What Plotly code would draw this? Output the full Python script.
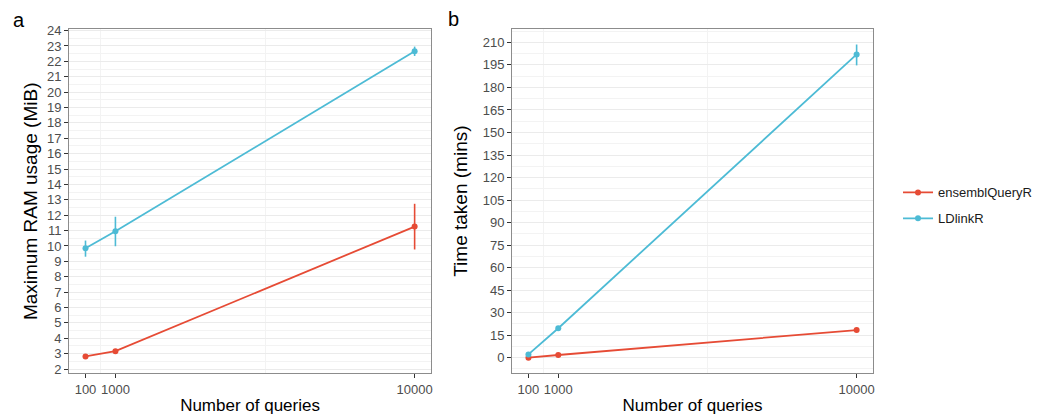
import plotly.graph_objects as go

queries = [100, 1000, 10000]
tick_labels = ["100", "1000", "10000"]

# Panel a: maximum RAM usage (MiB)
ram_ens = [2.82, 3.16, 11.26]
ram_ens_hi = [0.08, 0.08, 1.48]
ram_ens_lo = [0.08, 0.08, 1.49]
ram_ld = [9.85, 10.95, 22.65]
ram_ld_hi = [0.5, 0.95, 0.31]
ram_ld_lo = [0.55, 0.97, 0.30]

# Panel b: time taken (mins)
time_ens = [0.0, 1.8, 18.4]
time_ens_hi = [0.2, 0.3, 0.6]
time_ens_lo = [0.2, 0.3, 0.6]
time_ld = [2.2, 19.6, 202.0]
time_ld_hi = [0.4, 0.8, 6.6]
time_ld_lo = [0.4, 0.8, 7.3]

series_names = ["ensemblQueryR", "LDlinkR"]
colors = ["#E64B35", "#4DBBD5"]

fig = go.Figure()

def add(x, y, hi, lo, name, color, xa, ya, show):
    fig.add_trace(go.Scatter(
        x=x, y=y, mode="lines+markers", name=name,
        line=dict(color=color, width=1.8),
        marker=dict(color=color, size=6),
        error_y=dict(type="data", array=hi, arrayminus=lo, color=color,
                     thickness=1.6, width=0),
        xaxis=xa, yaxis=ya, showlegend=show, legendgroup=name,
    ))

add(queries, ram_ens, ram_ens_hi, ram_ens_lo, series_names[0], colors[0], "x", "y", True)
add(queries, ram_ld, ram_ld_hi, ram_ld_lo, series_names[1], colors[1], "x", "y", True)
add(queries, time_ens, time_ens_hi, time_ens_lo, series_names[0], colors[0], "x2", "y2", False)
add(queries, time_ld, time_ld_hi, time_ld_lo, series_names[1], colors[1], "x2", "y2", False)

font_family = "Liberation Sans, Arial, sans-serif"
tickfont = dict(family=font_family, size=13, color="#4D4D4D")
xtitlefont = dict(family=font_family, size=17, color="#000000")
ytitlefont = dict(family=font_family, size=19, color="#000000")
grid_major = "#EBEBEB"
grid_minor = "#F3F3F3"
border = "#8C8C8C"

def xaxis_cfg(domain):
    return dict(
        domain=domain, range=[-395, 10495], tickmode="array",
        tickvals=queries, ticktext=tick_labels, tickfont=tickfont,
        showgrid=False, zeroline=False, automargin=False,
        showline=True, mirror=True, linecolor=border, linewidth=1,
        ticks="outside", ticklen=4, tickcolor="#333333",
        minor=dict(tickmode="array", tickvals=[550, 5500], showgrid=True,
                   gridcolor=grid_minor, gridwidth=1, ticks=""),
        title=dict(text="Number of queries", font=xtitlefont, standoff=4),
    )

def yaxis_cfg(rng, tick0, dtick, mtick0, mdtick):
    return dict(
        domain=[0.1012, 0.930], range=rng, tickmode="linear",
        tick0=tick0, dtick=dtick, tickfont=tickfont, showgrid=True,
        gridcolor=grid_major, gridwidth=1, zeroline=False, automargin=False,
        showline=True, mirror=True, linecolor=border, linewidth=1,
        ticks="outside", ticklen=4, tickcolor="#333333",
        minor=dict(dtick=mdtick, tick0=mtick0, showgrid=True,
                   gridcolor=grid_minor, gridwidth=1, ticks=""),
    )

ytitle_kw = dict(xref="paper", yref="paper", xanchor="center", yanchor="middle",
                 showarrow=False, textangle=-90, font=ytitlefont)
label_kw = dict(xref="paper", yref="paper", xanchor="center", yanchor="middle",
                showarrow=False, font=dict(family=font_family, size=20, color="#000000"))

fig.update_layout(
    width=1054, height=415,
    margin=dict(l=0, r=0, t=0, b=0),
    plot_bgcolor="white", paper_bgcolor="white",
    font=dict(family=font_family),
    xaxis=xaxis_cfg([0.0655, 0.409]),
    xaxis2={**xaxis_cfg([0.4858, 0.8283]), "anchor": "y2"},
    yaxis=yaxis_cfg([1.74, 24.1], 2, 1, 1.5, 0.5),
    yaxis2={**yaxis_cfg([-10.2, 218.9], 0, 15, -7.5, 7.5), "anchor": "x2"},
    legend=dict(x=0.852, y=0.505, xanchor="left", yanchor="middle",
                font=dict(family=font_family, size=13, color="#1A1A1A"),
                bgcolor="rgba(0,0,0,0)", tracegroupgap=6),
    annotations=[
        dict(text="Maximum RAM usage (MiB)", x=0.0295, y=0.5157, **ytitle_kw),
        dict(text="Time taken (mins)", x=0.4372, y=0.5157, **ytitle_kw),
        dict(text="a", x=0.018, y=0.952, **label_kw),
        dict(text="b", x=0.4298, y=0.954, **label_kw),
    ],
)

fig.write_html("out.html", config={"displayModeBar": False},
               post_script="document.body.style.margin='0';document.body.style.overflow='hidden';")
